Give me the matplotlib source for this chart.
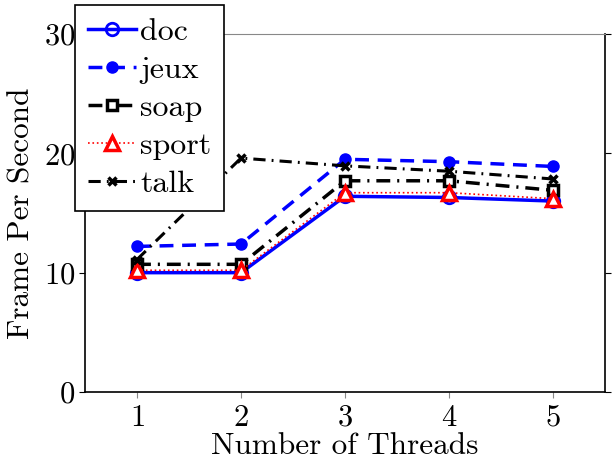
import matplotlib
matplotlib.use("Agg")
import matplotlib.pyplot as plt

plt.rcParams['font.family'] = ['cmr10', 'DejaVu Serif']
plt.rcParams['mathtext.fontset'] = 'cm'
plt.rcParams['axes.formatter.use_mathtext'] = True

threads = [1, 2, 3, 4, 5]
doc = [10.0, 10.0, 16.4, 16.3, 16.0]
jeux = [12.2, 12.4, 19.5, 19.3, 18.9]
soap = [10.7, 10.7, 17.7, 17.7, 16.9]
sport = [10.2, 10.2, 16.7, 16.7, 16.2]
talk = [11.1, 19.6, 18.95, 18.5, 17.85]
yticks = [0, 10, 20, 30]

fig = plt.figure(figsize=(6.12, 4.66), dpi=100)
ax = fig.add_axes([85/612, 1-392/466, (605-85)/612, (392-34)/466])

ax.plot(threads, doc, color='blue', lw=2.5, ls='-', marker='o', ms=9,
        mfc='none', mec='blue', mew=2, label='doc')
ax.plot(threads, jeux, color='blue', lw=2.5, ls=(0, (4, 2.5)), marker='o', ms=8,
        mfc='blue', mec='blue', label='jeux')
ax.plot(threads, soap, color='black', lw=2.5, ls=(0, (4, 2, 0.6, 2)), marker='s', ms=7,
        mfc='white', mec='black', mew=2.5, label='soap')
ax.plot(threads, sport, color='red', lw=1.2, ls=':', marker='^', ms=10,
        mfc='white', mec='red', mew=2.5, label='sport')
ax.plot(threads, talk, color='black', lw=2.2, ls=(0, (4, 2, 0.6, 2)), marker='x', ms=6,
        mew=2.5, label='talk')

ax.set_xlim(0.5, 5.5)
ax.set_ylim(0, 30)
ax.set_xticks(threads)
ax.set_yticks(yticks)
ax.tick_params(axis='both', direction='out', length=4, labelsize=22, pad=5)
ax.tick_params(axis='y', right=True, pad=3)
ax.tick_params(axis='x', color='#888888')
for s in ['left', 'right', 'bottom']:
    ax.spines[s].set_linewidth(1.2)
ax.spines['top'].set_color('#888888')

ax.set_xlabel('Number of Threads', fontsize=22.5, labelpad=0)
ax.set_ylabel('Frame Per Second', fontsize=22.5, labelpad=6)

leg = ax.legend(loc='upper left', bbox_to_anchor=(75/612, 1-5/466),
                bbox_transform=fig.transFigure, fontsize=23, frameon=True,
                fancybox=False, edgecolor='black', framealpha=1,
                handlelength=1.5, handletextpad=0.15, borderpad=0.4,
                labelspacing=0.3, borderaxespad=0)
leg.get_frame().set_linewidth(1.2)

fig.savefig('out.png', dpi=100)
